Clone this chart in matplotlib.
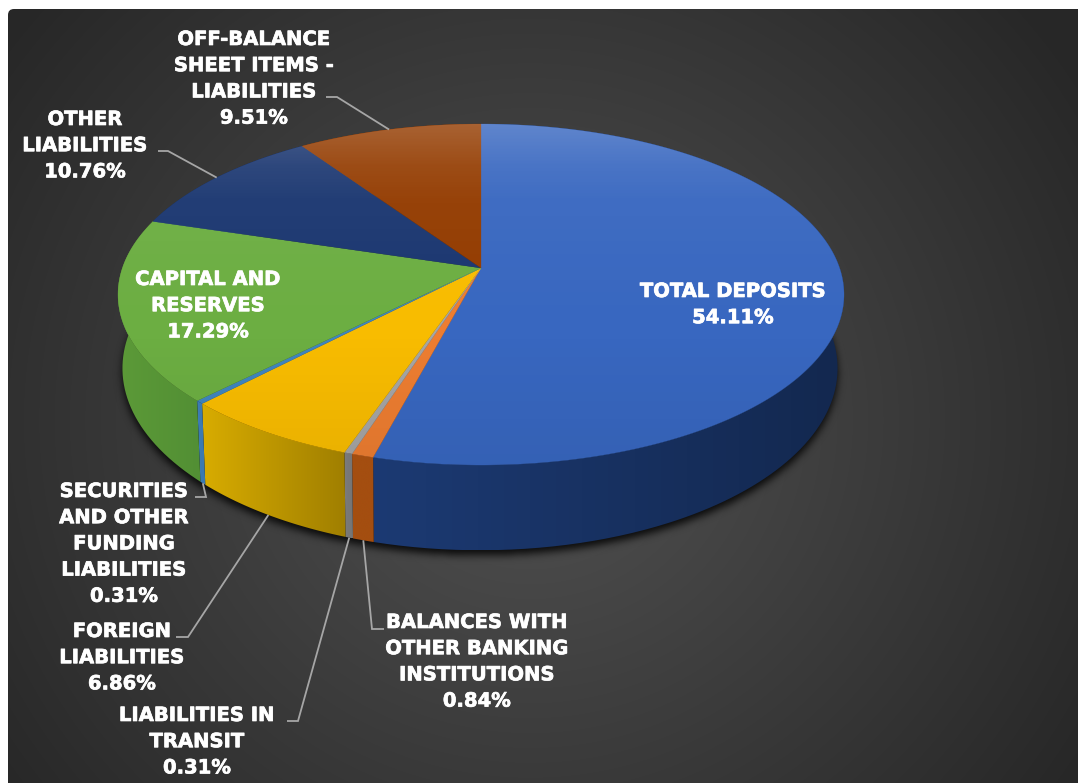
import numpy as np
import matplotlib
matplotlib.use("Agg")
import matplotlib.pyplot as plt
import matplotlib.patheffects as pe
from matplotlib.colors import LinearSegmentedColormap
from matplotlib.patches import FancyBboxPatch, PathPatch, Polygon
from matplotlib.path import Path

# Composición del pasivo (%), en sentido horario desde arriba
nombres = [
    "TOTAL DEPOSITS",
    "BALANCES WITH\nOTHER BANKING\nINSTITUTIONS",
    "LIABILITIES IN\nTRANSIT",
    "FOREIGN\nLIABILITIES",
    "SECURITIES\nAND OTHER\nFUNDING\nLIABILITIES",
    "CAPITAL AND\nRESERVES",
    "OTHER\nLIABILITIES",
    "OFF-BALANCE\nSHEET ITEMS -\nLIABILITIES",
]
valores = [54.11, 0.84, 0.31, 6.86, 0.31, 17.29, 10.76, 9.51]

colores_tapa = ["#3867c0", "#ed7d31", "#a5a5a5", "#f8bc00",
                "#3f85c0", "#6cae42", "#1a3670", "#933b00"]
colores_lado_izq = ["#1c3a73", "#a44e10", "#7c7c7c", "#d8ac00",
                    "#3d7cb5", "#5c9a38", "#1d3b78", "#9e480e"]
colores_lado_der = ["#13284f", "#a44e10", "#747474", "#a07f00",
                    "#3a78b0", "#528f34", "#1d3b78", "#9e480e"]

# Posición central de cada etiqueta y quiebre de su línea guía (píxeles)
etiquetas_xy = [(733, 289), (477, 620), (197, 713), (122, 629),
                (124, 489), (208, 277), (85, 117), (254, 37)]
quiebres = [None,
            [(372, 629), (384, 629)],
            [(298, 721), (287, 721)],
            [(188, 637), (176, 637)],
            [(206, 497), (195, 497)],
            None,
            [(168, 151), (158, 151)],
            [(337, 97), (326, 97)]]

ANCHO, ALTO = 1078, 783
CX, CY = 481, 268      # vértice de las porciones
A, B, K = 358.6, 166.4, 0.1554   # proyección en perspectiva del disco
PROF = 72              # grosor del cilindro
ESCALA_BASE = 0.985
PASO_LINEA = 26.2


def tapa(theta):
    """Punto del borde superior para un ángulo horario desde arriba."""
    u, v = np.sin(theta), np.cos(theta)
    w = 1 + K * v
    return CX + A * u / w, CY - B * v / w


def base(theta):
    """Punto del borde inferior del cilindro."""
    u, v = np.sin(theta), np.cos(theta)
    w = 1 + K * v
    return CX - 1 + ESCALA_BASE * A * u / w, CY - B * v / w + PROF / w


def arco(func, t0, t1):
    t = np.linspace(t0, t1, max(int(abs(t1 - t0) * 120), 6))
    x, y = func(t)
    return np.column_stack([x, y])


def gradiente(ax, ruta, c0, c1, vertical=False):
    """Relleno lineal recortado a una ruta."""
    cmap = LinearSegmentedColormap.from_list("g", [c0, c1])
    xy = ruta.vertices
    x0, x1, y0, y1 = xy[:, 0].min(), xy[:, 0].max(), xy[:, 1].min(), xy[:, 1].max()
    z = np.linspace(0, 1, 256)
    z = z[:, None] if vertical else z[None, :]
    im = ax.imshow(z, cmap=cmap, extent=(x0, x1, y1, y0), aspect="auto",
                   vmin=0, vmax=1, zorder=3, interpolation="bilinear")
    im.set_clip_path(PathPatch(ruta, transform=ax.transData))
    return im


def desenfocar(m, sigma):
    r = int(3 * sigma)
    n = np.exp(-0.5 * (np.arange(-r, r + 1) / sigma) ** 2)
    n /= n.sum()
    m = np.apply_along_axis(lambda f: np.convolve(f, n, mode="same"), 0, m)
    return np.apply_along_axis(lambda f: np.convolve(f, n, mode="same"), 1, m)


fig = plt.figure(figsize=(ANCHO / 100, ALTO / 100), dpi=100, facecolor="white")
ax = fig.add_axes([0, 0, 1, 1])
ax.set_xlim(0, ANCHO)
ax.set_ylim(ALTO, 0)
ax.axis("off")

# Fondo oscuro con degradado radial
yy, xx = np.mgrid[0:ALTO, 0:ANCHO]
t = np.clip(np.hypot((xx - 530) / 660, (yy - 420) / 640), 0, 1)
gris = (0x52 + (0x27 - 0x52) * t) / 255
fondo = ax.imshow(np.dstack([gris, gris, gris]), extent=(0, ANCHO, ALTO, 0),
                  aspect="auto", zorder=0)
marco = FancyBboxPatch((8, 9), ANCHO + 40, ALTO + 40, boxstyle="round,pad=0,rounding_size=6",
                       transform=ax.transData, facecolor="none", edgecolor="none")
ax.add_patch(marco)
fondo.set_clip_path(marco)

# Sombra bajo el cilindro
contorno_base = Path(arco(base, 0, 2 * np.pi))
mascara = contorno_base.contains_points(
    np.column_stack([xx.ravel() + 0.5, yy.ravel() - 4.5])).reshape(xx.shape).astype(float)
sombra = np.zeros((ALTO, ANCHO, 4))
sombra[..., 3] = desenfocar(mascara, 4.0) * 0.85
sombra_im = ax.imshow(sombra, extent=(0, ANCHO, ALTO, 0), aspect="auto", zorder=1)
sombra_im.set_clip_path(marco)

total = sum(valores)
limites = np.cumsum([0] + valores) / total * 2 * np.pi

# Paredes laterales
for i in range(len(valores)):
    t0, t1 = limites[i], limites[i + 1]
    sup = arco(tapa, t0, t1)
    inf = arco(base, t0, t1)
    pared = Path(np.vstack([sup, inf[::-1], sup[:1]]))
    # los colores van de izquierda a derecha en pantalla
    gradiente(ax, pared, colores_lado_izq[i], colores_lado_der[i])

# Caras superiores
for i, c in enumerate(colores_tapa):
    t0, t1 = limites[i], limites[i + 1]
    borde = arco(tapa, t0, t1)
    ax.add_patch(Polygon(np.vstack([[CX, CY], borde]), closed=True, facecolor=c,
                         edgecolor=c, lw=0.2, zorder=4))

# Brillo vertical sobre la tapa
contorno_tapa = Path(arco(tapa, 0, 2 * np.pi))
filas = np.arange(ALTO, dtype=float)
blanco = np.interp(filas, [124, 165, 200, 330], [0.20, 0.09, 0.04, 0.0])
negro = np.interp(filas, [330, 465], [0.0, 0.06])
capa = np.zeros((ALTO, 1, 4))
capa[:, 0, :3] = (blanco > 0)[:, None].astype(float)
capa[:, 0, 3] = blanco + negro
brillo = ax.imshow(capa, extent=(0, ANCHO, ALTO, 0), aspect="auto", zorder=5)
brillo.set_clip_path(PathPatch(contorno_tapa, transform=ax.transData))

# Líneas guía
for i, q in enumerate(quiebres):
    if q is None:
        continue
    medio = (limites[i] + limites[i + 1]) / 2
    # las porciones traseras salen de la tapa y las delanteras de la base
    ancla = base(medio) if np.cos(medio) < 0 else tapa(medio)
    pts = np.array([ancla] + q)
    ax.plot(pts[:, 0], pts[:, 1], color="#a6a6a6", lw=1.3, zorder=6,
            solid_capstyle="butt", solid_joinstyle="miter")

# Etiquetas, alineadas por la línea base
trazo = [pe.withStroke(linewidth=0.5, foreground="white")]
for nombre, valor, (x, y) in zip(nombres, valores, etiquetas_xy):
    lineas = nombre.split("\n") + [f"{valor:.2f}%"]
    for j, linea in enumerate(lineas):
        ax.text(x, y + 8 + j * PASO_LINEA, linea, color="white", fontsize=14.1,
                fontweight="bold", family="DejaVu Sans", ha="center", va="baseline",
                zorder=7, path_effects=trazo)

fig.savefig("out.png", dpi=100, facecolor="white")
